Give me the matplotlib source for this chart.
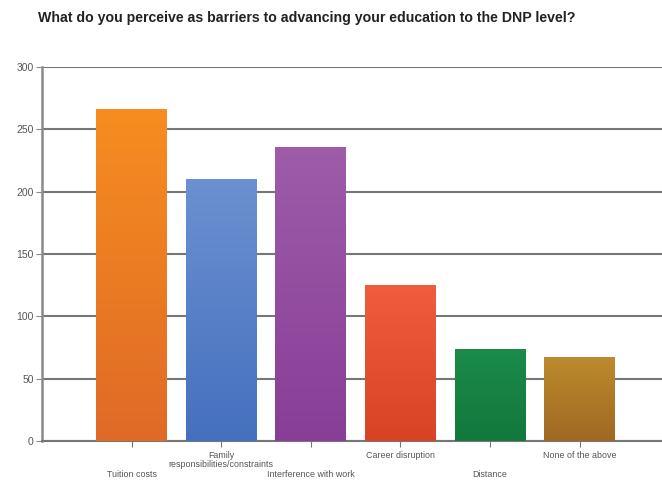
import numpy as np
import matplotlib
matplotlib.use('Agg')
import matplotlib.pyplot as plt
from matplotlib.colors import LinearSegmentedColormap

plt.rcParams['font.family'] = ['Liberation Sans', 'DejaVu Sans']

#%% data
categories = ['Tuition costs', 'Family\nresponsibilities/constraints', 'Interference with work',
              'Career disruption', 'Distance', 'None of the above']
counts = [266, 210, 236, 125, 74, 67]
top_colors = ['#f78d20', '#6c91d1', '#9e5ca9', '#f15b3e', '#1c8b4a', '#bc8b2d']
bottom_colors = ['#df6a27', '#4570bf', '#883e97', '#d84326', '#12783b', '#a06823']
label_top_px = [29, 10, 29, 10, 29, 10]   # staggered label rows, px below the axis

#%%
fig = plt.figure(figsize=(6.62, 4.80), dpi=100)
ax = fig.add_axes([0.0634, 0.0813, 0.9366, 0.7791])

x = np.arange(len(categories))
bars = ax.bar(x, counts, width=0.79, color='none', zorder=3)

grad = np.linspace(1, 0, 256).reshape(-1, 1)
for b, c_top, c_bot in zip(bars, top_colors, bottom_colors):
    cmap = LinearSegmentedColormap.from_list('g', [c_bot, c_top])
    x0, w, h = b.get_x(), b.get_width(), b.get_height()
    im = ax.imshow(grad, cmap=cmap, aspect='auto', extent=(x0, x0 + w, 0, h),
                   origin='upper', zorder=3, vmin=0, vmax=1)
    im.set_clip_path(b)

ax.set_xlim(-1.0, 5.92)
ax.set_ylim(0, 300)
ax.set_yticks(np.arange(0, 301, 50))
ax.yaxis.grid(True, color='#767676', linewidth=1.5, zorder=1)
ax.set_axisbelow(True)

for s in ['top', 'right']:
    ax.spines[s].set_visible(False)
ax.spines['left'].set_color('#8a8a8a')
ax.spines['left'].set_linewidth(1.8)
ax.spines['bottom'].set_color('#767676')
ax.spines['bottom'].set_linewidth(1.5)

ax.tick_params(axis='y', length=4, color='#8a8a8a', labelsize=7.5, labelcolor='#555555', pad=2)
ax.set_xticks(x)
ax.set_xticklabels([])
ax.tick_params(axis='x', length=4, color='#767676', direction='out')

for i, (lab, off) in enumerate(zip(categories, label_top_px)):
    ax.annotate(lab, xy=(i, 0), xycoords=('data', 'axes fraction'),
                xytext=(0, -off * 0.72), textcoords='offset points',
                ha='center', va='top', fontsize=6.4, color='#555555', linespacing=1.05)

fig.text(0.057, 0.962, 'What do you perceive as barriers to advancing your education to the DNP level?',
         fontsize=10.2, fontweight='bold', color='#222222', ha='left', va='center')

fig.savefig('out.png', dpi=100)
